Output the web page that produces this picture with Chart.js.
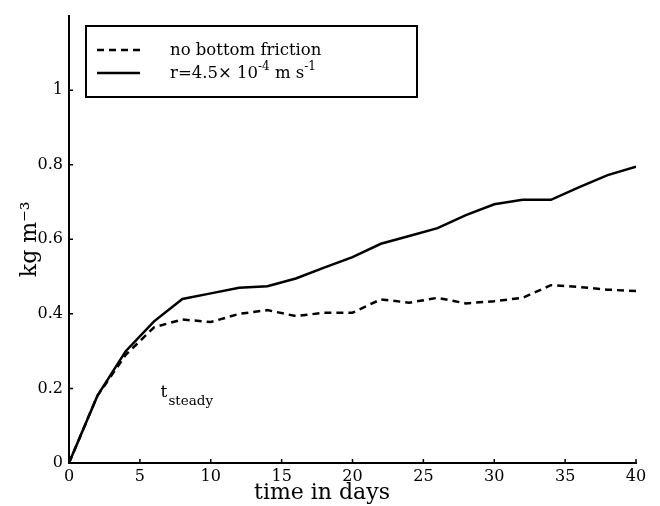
<!doctype html>
<html lang="en">
  <head>
    <title>kg m-3 vs time</title>
    <script src="https://cdn.jsdelivr.net/npm/chart.js@4.4.1/dist/chart.umd.min.js"></script>
    <style>
      body { margin: 0; background: #fff; }
      #wrap { width: 660px; height: 506px; }
    </style>
  </head>

  <body>
    <div id="wrap"><canvas id="cnv" width="660" height="506"></canvas></div>
    <script>
      // data
      var days = [0, 2, 4, 6, 8, 10, 12, 14, 16, 18, 20, 22, 24, 26, 28, 30, 32, 34, 36, 38, 40];
      var noFriction = [0, 0.18, 0.29, 0.364, 0.385, 0.378, 0.40, 0.41, 0.394, 0.403, 0.403, 0.439, 0.43, 0.443, 0.428, 0.434, 0.443, 0.477, 0.472, 0.465, 0.461];
      var withFriction = [0, 0.18, 0.30, 0.38, 0.44, 0.455, 0.47, 0.474, 0.495, 0.524, 0.552, 0.588, 0.609, 0.63, 0.665, 0.694, 0.706, 0.706, 0.74, 0.772, 0.795];
      var xTicks = [0, 5, 10, 15, 20, 25, 30, 35, 40];
      var yTicks = [0, 0.2, 0.4, 0.6, 0.8, 1];
      var labels = ["no bottom friction", "r=4.5× 10|-4| m s|-1"];

      var serif = "'DejaVu Serif', 'Liberation Serif', serif";

      function pts(ys) {
        return days.map(function (d, i) { return { x: d, y: ys[i] }; });
      }

      // text with |sup| parts
      function richText(ctx, str, x, y, size) {
        var parts = str.split("|");
        for (var i = 0; i < parts.length; i++) {
          var sup = i % 2 == 1;
          ctx.font = (sup ? Math.round(size * 0.75) : size) + "px " + serif;
          ctx.fillText(parts[i], x, sup ? y - size * 0.45 : y);
          x += ctx.measureText(parts[i]).width;
        }
      }

      var extras = {
        id: "extras",
        afterDraw: function (chart) {
          var ctx = chart.ctx, a = chart.chartArea;
          var xs = chart.scales.x, ys = chart.scales.y;
          ctx.save();
          // inward ticks
          ctx.strokeStyle = "#000";
          ctx.lineWidth = 1.5;
          ctx.beginPath();
          xTicks.forEach(function (v) {
            var px = xs.getPixelForValue(v);
            ctx.moveTo(px, a.bottom); ctx.lineTo(px, a.bottom - 4);
          });
          yTicks.forEach(function (v) {
            var py = ys.getPixelForValue(v);
            ctx.moveTo(a.left, py); ctx.lineTo(a.left + 4, py);
          });
          ctx.stroke();

          // legend box
          ctx.lineWidth = 2;
          ctx.strokeRect(86, 26, 331, 71);
          var rows = [50, 73];
          chart.data.datasets.forEach(function (ds, i) {
            ctx.beginPath();
            ctx.lineWidth = 2.5;
            ctx.setLineDash(ds.borderDash || []);
            ctx.moveTo(97, rows[i]); ctx.lineTo(140, rows[i]);
            ctx.stroke();
            ctx.setLineDash([]);
            ctx.fillStyle = "#000";
            ctx.textBaseline = "middle";
            ctx.textAlign = "left";
            richText(ctx, labels[i], 170, rows[i] + 1, 16.5);
          });

          // x axis title, sits left of centre in the original
          ctx.textAlign = "center";
          ctx.textBaseline = "middle";
          ctx.font = "22px " + serif;
          ctx.fillText("time in days", 322, 493);

          // t_steady label
          var tx = xs.getPixelForValue(6.45), ty = ys.getPixelForValue(0.2);
          ctx.textAlign = "left";
          ctx.textBaseline = "alphabetic";
          ctx.font = "17px " + serif;
          ctx.fillText("t", tx, ty + 9);
          ctx.font = "13.5px " + serif;
          ctx.fillText("steady", tx + 8, ty + 17);
          ctx.restore();
        }
      };

      new Chart(document.getElementById("cnv"), {
        type: "line",
        data: {
          datasets: [
            {
              label: labels[0],
              data: pts(noFriction),
              borderColor: "#000",
              borderWidth: 2.5,
              borderDash: [7, 5],
              pointRadius: 0,
              tension: 0,
              fill: false
            },
            {
              label: labels[1],
              data: pts(withFriction),
              borderColor: "#000",
              borderWidth: 2.5,
              pointRadius: 0,
              tension: 0,
              fill: false
            }
          ]
        },
        options: {
          responsive: false,
          animation: false,
          layout: { padding: { top: 15, right: 24, left: 0, bottom: 0 } },
          plugins: { legend: { display: false }, tooltip: { enabled: false } },
          scales: {
            x: {
              type: "linear",
              min: 0,
              max: 40,
              afterBuildTicks: function (s) { s.ticks = xTicks.map(function (v) { return { value: v }; }); },
              afterFit: function (s) { s.height = 43; },
              grid: { display: false, drawTicks: false },
              border: { display: true, color: "#000", width: 2 },
              ticks: { color: "#000", padding: 4, maxRotation: 0, font: { family: serif, size: 16 } },
              title: { display: false }
            },
            y: {
              min: 0,
              max: 1.2,
              afterBuildTicks: function (s) { s.ticks = yTicks.map(function (v) { return { value: v }; }); },
              afterFit: function (s) { s.width = 69; },
              grid: { display: false, drawTicks: false },
              border: { display: true, color: "#000", width: 2 },
              ticks: { color: "#000", padding: 6, font: { family: serif, size: 16 }, callback: function (v) { return String(v); } },
              title: { display: true, text: "kg m⁻³", color: "#000", padding: { top: 17, bottom: 0 }, font: { family: serif, size: 22 } }
            }
          }
        },
        plugins: [extras]
      });
    </script>
  </body>
</html>
